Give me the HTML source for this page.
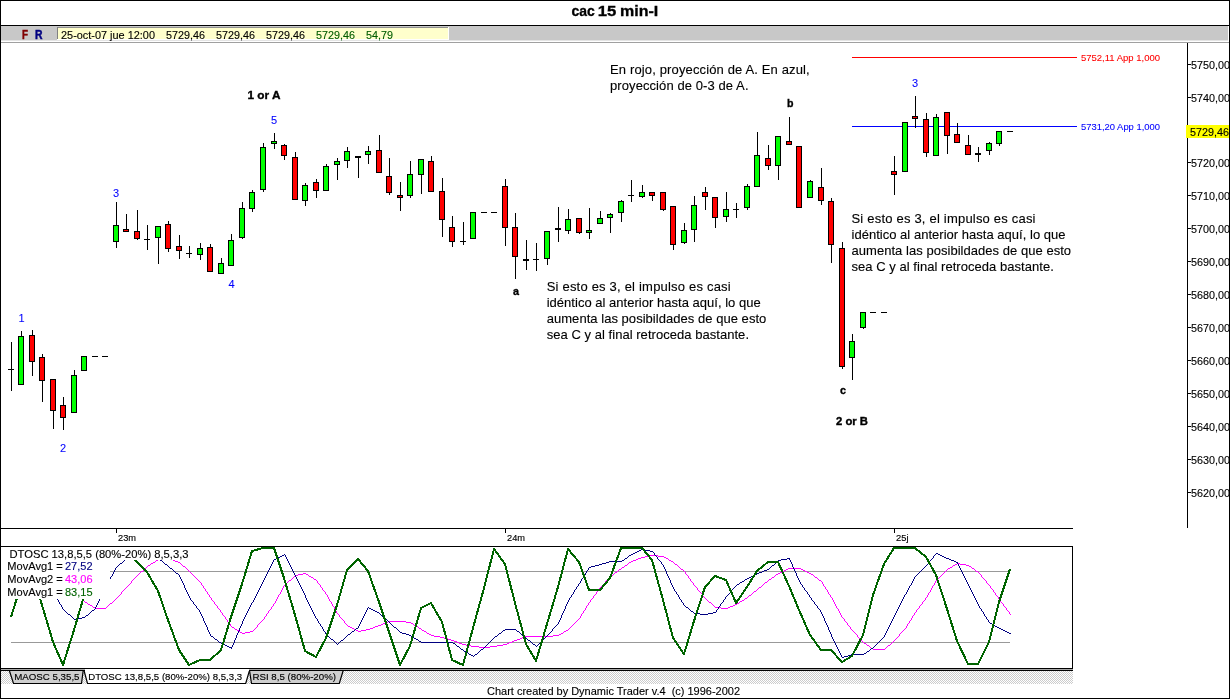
<!DOCTYPE html>
<html lang="es">
<head>
<meta charset="utf-8">
<title>cac 15 min-I</title>
<style>
html,body{margin:0;padding:0;background:#fff;}
body{width:1230px;height:699px;overflow:hidden;}
svg{display:block;font-family:"Liberation Sans",sans-serif;}
svg rect,svg path{shape-rendering:crispEdges;}
svg text{white-space:pre;}
</style>
</head>
<body>
<svg width="1230" height="699" viewBox="0 0 1230 699">
<defs>
<pattern id="dith" width="2" height="2" patternUnits="userSpaceOnUse"><rect width="2" height="2" fill="#fff"/><rect width="1" height="1" fill="#cccccc"/><rect x="1" y="1" width="1" height="1" fill="#cccccc"/></pattern>
<clipPath id="axc"><rect x="1188" y="43" width="41" height="485"/></clipPath>
<clipPath id="pc"><rect x="1" y="547" width="1071" height="121"/></clipPath>
</defs>
<rect x="0" y="0" width="1230" height="699" fill="#fff"/>
<text y="16" font-size="14.5" font-weight="bold" fill="#000" stroke="#000" stroke-width="0.3"><tspan x="571.6" textLength="23.2" lengthAdjust="spacingAndGlyphs">cac</tspan> <tspan x="597.8" textLength="18.6" lengthAdjust="spacingAndGlyphs">15</tspan> <tspan x="620" textLength="38.2" lengthAdjust="spacingAndGlyphs">min-I</tspan></text>
<rect x="0" y="25" width="1230" height="1" fill="#000"/>
<rect x="1" y="26" width="1227" height="14" fill="#c8c8c8"/>
<rect x="1" y="40" width="1227" height="1" fill="#e4e4e4"/>
<rect x="1" y="41" width="1227" height="1" fill="#fff"/>
<rect x="1" y="42" width="1228" height="1" fill="#a0a0a0"/>
<text x="22" y="39" font-size="12.5" fill="#800000" font-weight="bold" textLength="6" lengthAdjust="spacingAndGlyphs" stroke="#800000" stroke-width="0.5">F</text>
<text x="35" y="39" font-size="12.5" fill="#000080" font-weight="bold" textLength="7.5" lengthAdjust="spacingAndGlyphs" stroke="#000080" stroke-width="0.5">R</text>
<rect x="57" y="27" width="392" height="13" fill="#fff"/>
<rect x="57" y="27" width="391" height="1" fill="#909090"/>
<rect x="57" y="27" width="1" height="12" fill="#808080"/>
<rect x="58" y="28" width="390" height="11" fill="#ffffcc"/>
<text x="61" y="39" font-size="11" fill="#000" textLength="94" lengthAdjust="spacingAndGlyphs" stroke="#000" stroke-width="0.12">25-oct-07 jue 12:00</text>
<text x="166" y="39" font-size="11" fill="#000" textLength="39" lengthAdjust="spacingAndGlyphs" stroke="#000" stroke-width="0.12">5729,46</text>
<text x="216" y="39" font-size="11" fill="#000" textLength="39" lengthAdjust="spacingAndGlyphs" stroke="#000" stroke-width="0.12">5729,46</text>
<text x="266" y="39" font-size="11" fill="#000" textLength="39" lengthAdjust="spacingAndGlyphs" stroke="#000" stroke-width="0.12">5729,46</text>
<text x="316" y="39" font-size="11" fill="#005c00" textLength="39" lengthAdjust="spacingAndGlyphs" stroke="#005c00" stroke-width="0.12">5729,46</text>
<text x="366" y="39" font-size="11" fill="#005c00" textLength="27" lengthAdjust="spacingAndGlyphs" stroke="#005c00" stroke-width="0.12">54,79</text>
<rect x="1187" y="43" width="1" height="485" fill="#000"/>
<g clip-path="url(#axc)">
<rect x="1188" y="64" width="3" height="1" fill="#000"/>
<text x="1191" y="69" font-size="11" fill="#000" textLength="39" lengthAdjust="spacingAndGlyphs" stroke="#000" stroke-width="0.12">5750,00</text>
<rect x="1188" y="97" width="3" height="1" fill="#000"/>
<text x="1191" y="102" font-size="11" fill="#000" textLength="39" lengthAdjust="spacingAndGlyphs" stroke="#000" stroke-width="0.12">5740,00</text>
<rect x="1188" y="130" width="3" height="1" fill="#000"/>
<text x="1191" y="135" font-size="11" fill="#000" textLength="39" lengthAdjust="spacingAndGlyphs" stroke="#000" stroke-width="0.12">5730,00</text>
<rect x="1188" y="162" width="3" height="1" fill="#000"/>
<text x="1191" y="167" font-size="11" fill="#000" textLength="39" lengthAdjust="spacingAndGlyphs" stroke="#000" stroke-width="0.12">5720,00</text>
<rect x="1188" y="195" width="3" height="1" fill="#000"/>
<text x="1191" y="200" font-size="11" fill="#000" textLength="39" lengthAdjust="spacingAndGlyphs" stroke="#000" stroke-width="0.12">5710,00</text>
<rect x="1188" y="228" width="3" height="1" fill="#000"/>
<text x="1191" y="233" font-size="11" fill="#000" textLength="39" lengthAdjust="spacingAndGlyphs" stroke="#000" stroke-width="0.12">5700,00</text>
<rect x="1188" y="261" width="3" height="1" fill="#000"/>
<text x="1191" y="266" font-size="11" fill="#000" textLength="39" lengthAdjust="spacingAndGlyphs" stroke="#000" stroke-width="0.12">5690,00</text>
<rect x="1188" y="294" width="3" height="1" fill="#000"/>
<text x="1191" y="299" font-size="11" fill="#000" textLength="39" lengthAdjust="spacingAndGlyphs" stroke="#000" stroke-width="0.12">5680,00</text>
<rect x="1188" y="327" width="3" height="1" fill="#000"/>
<text x="1191" y="332" font-size="11" fill="#000" textLength="39" lengthAdjust="spacingAndGlyphs" stroke="#000" stroke-width="0.12">5670,00</text>
<rect x="1188" y="360" width="3" height="1" fill="#000"/>
<text x="1191" y="365" font-size="11" fill="#000" textLength="39" lengthAdjust="spacingAndGlyphs" stroke="#000" stroke-width="0.12">5660,00</text>
<rect x="1188" y="393" width="3" height="1" fill="#000"/>
<text x="1191" y="398" font-size="11" fill="#000" textLength="39" lengthAdjust="spacingAndGlyphs" stroke="#000" stroke-width="0.12">5650,00</text>
<rect x="1188" y="426" width="3" height="1" fill="#000"/>
<text x="1191" y="431" font-size="11" fill="#000" textLength="39" lengthAdjust="spacingAndGlyphs" stroke="#000" stroke-width="0.12">5640,00</text>
<rect x="1188" y="459" width="3" height="1" fill="#000"/>
<text x="1191" y="464" font-size="11" fill="#000" textLength="39" lengthAdjust="spacingAndGlyphs" stroke="#000" stroke-width="0.12">5630,00</text>
<rect x="1188" y="492" width="3" height="1" fill="#000"/>
<text x="1191" y="497" font-size="11" fill="#000" textLength="39" lengthAdjust="spacingAndGlyphs" stroke="#000" stroke-width="0.12">5620,00</text>
</g>
<rect x="1186" y="125" width="43" height="13" fill="#ffff00"/>
<text x="1190" y="136" font-size="11" fill="#000" textLength="39" lengthAdjust="spacingAndGlyphs" stroke="#000" stroke-width="0.12">5729,46</text>
<rect x="852" y="57" width="225" height="1" fill="#ff0000"/>
<text x="1081" y="61" font-size="9.33" fill="#ff0000" textLength="79" lengthAdjust="spacingAndGlyphs" stroke="#ff0000" stroke-width="0.08">5752,11 App 1,000</text>
<rect x="852" y="126" width="225" height="1" fill="#0000ff"/>
<text x="1081" y="130" font-size="9.33" fill="#0000ff" textLength="79" lengthAdjust="spacingAndGlyphs" stroke="#0000ff" stroke-width="0.08">5731,20 App 1,000</text>
<rect x="11" y="342" width="1" height="49" fill="#000"/>
<rect x="8" y="369" width="6" height="1" fill="#000"/>
<rect x="21" y="331" width="1" height="54" fill="#000"/>
<rect x="18" y="336" width="6" height="49" fill="#000"/>
<rect x="19" y="337" width="4" height="47" fill="#00ff00"/>
<rect x="32" y="330" width="1" height="46" fill="#000"/>
<rect x="29" y="335" width="6" height="27" fill="#000"/>
<rect x="30" y="336" width="4" height="25" fill="#ff0000"/>
<rect x="42" y="354" width="1" height="48" fill="#000"/>
<rect x="39" y="357" width="6" height="24" fill="#000"/>
<rect x="40" y="358" width="4" height="22" fill="#ff0000"/>
<rect x="53" y="379" width="1" height="50" fill="#000"/>
<rect x="50" y="379" width="6" height="32" fill="#000"/>
<rect x="51" y="380" width="4" height="30" fill="#ff0000"/>
<rect x="63" y="397" width="1" height="33" fill="#000"/>
<rect x="60" y="405" width="6" height="13" fill="#000"/>
<rect x="61" y="406" width="4" height="11" fill="#ff0000"/>
<rect x="74" y="370" width="1" height="43" fill="#000"/>
<rect x="71" y="375" width="6" height="38" fill="#000"/>
<rect x="72" y="376" width="4" height="36" fill="#00ff00"/>
<rect x="84" y="356" width="1" height="15" fill="#000"/>
<rect x="81" y="356" width="6" height="15" fill="#000"/>
<rect x="82" y="357" width="4" height="13" fill="#00ff00"/>
<rect x="92" y="356" width="6" height="1" fill="#000"/>
<rect x="102" y="356" width="6" height="1" fill="#000"/>
<rect x="116" y="202" width="1" height="46" fill="#000"/>
<rect x="113" y="225" width="6" height="17" fill="#000"/>
<rect x="114" y="226" width="4" height="15" fill="#00ff00"/>
<rect x="126" y="214" width="1" height="18" fill="#000"/>
<rect x="123" y="229" width="6" height="3" fill="#000"/>
<rect x="124" y="230" width="4" height="1" fill="#ff0000"/>
<rect x="137" y="210" width="1" height="30" fill="#000"/>
<rect x="134" y="231" width="6" height="8" fill="#000"/>
<rect x="135" y="232" width="4" height="6" fill="#ff0000"/>
<rect x="147" y="225" width="1" height="25" fill="#000"/>
<rect x="144" y="239" width="6" height="1" fill="#000"/>
<rect x="158" y="226" width="1" height="38" fill="#000"/>
<rect x="155" y="226" width="6" height="12" fill="#000"/>
<rect x="156" y="227" width="4" height="10" fill="#00ff00"/>
<rect x="168" y="221" width="1" height="31" fill="#000"/>
<rect x="165" y="224" width="6" height="25" fill="#000"/>
<rect x="166" y="225" width="4" height="23" fill="#ff0000"/>
<rect x="179" y="235" width="1" height="24" fill="#000"/>
<rect x="176" y="246" width="6" height="5" fill="#000"/>
<rect x="177" y="247" width="4" height="3" fill="#ff0000"/>
<rect x="189" y="246" width="1" height="12" fill="#000"/>
<rect x="186" y="253" width="6" height="1" fill="#000"/>
<rect x="200" y="243" width="1" height="17" fill="#000"/>
<rect x="197" y="248" width="6" height="7" fill="#000"/>
<rect x="198" y="249" width="4" height="5" fill="#00ff00"/>
<rect x="210" y="244" width="1" height="28" fill="#000"/>
<rect x="207" y="247" width="6" height="25" fill="#000"/>
<rect x="208" y="248" width="4" height="23" fill="#ff0000"/>
<rect x="221" y="258" width="1" height="16" fill="#000"/>
<rect x="218" y="263" width="6" height="11" fill="#000"/>
<rect x="219" y="264" width="4" height="9" fill="#00ff00"/>
<rect x="231" y="234" width="1" height="32" fill="#000"/>
<rect x="228" y="240" width="6" height="26" fill="#000"/>
<rect x="229" y="241" width="4" height="24" fill="#00ff00"/>
<rect x="242" y="202" width="1" height="37" fill="#000"/>
<rect x="239" y="208" width="6" height="30" fill="#000"/>
<rect x="240" y="209" width="4" height="28" fill="#00ff00"/>
<rect x="252" y="190" width="1" height="22" fill="#000"/>
<rect x="249" y="192" width="6" height="17" fill="#000"/>
<rect x="250" y="193" width="4" height="15" fill="#00ff00"/>
<rect x="263" y="143" width="1" height="49" fill="#000"/>
<rect x="260" y="147" width="6" height="43" fill="#000"/>
<rect x="261" y="148" width="4" height="41" fill="#00ff00"/>
<rect x="274" y="133" width="1" height="16" fill="#000"/>
<rect x="271" y="141" width="6" height="3" fill="#000"/>
<rect x="272" y="142" width="4" height="1" fill="#00ff00"/>
<rect x="284" y="144" width="1" height="16" fill="#000"/>
<rect x="281" y="145" width="6" height="11" fill="#000"/>
<rect x="282" y="146" width="4" height="9" fill="#ff0000"/>
<rect x="295" y="152" width="1" height="48" fill="#000"/>
<rect x="292" y="157" width="6" height="43" fill="#000"/>
<rect x="293" y="158" width="4" height="41" fill="#ff0000"/>
<rect x="305" y="183" width="1" height="23" fill="#000"/>
<rect x="302" y="185" width="6" height="16" fill="#000"/>
<rect x="303" y="186" width="4" height="14" fill="#00ff00"/>
<rect x="316" y="179" width="1" height="19" fill="#000"/>
<rect x="313" y="182" width="6" height="9" fill="#000"/>
<rect x="314" y="183" width="4" height="7" fill="#ff0000"/>
<rect x="326" y="164" width="1" height="27" fill="#000"/>
<rect x="323" y="166" width="6" height="25" fill="#000"/>
<rect x="324" y="167" width="4" height="23" fill="#00ff00"/>
<rect x="337" y="158" width="1" height="22" fill="#000"/>
<rect x="334" y="161" width="6" height="4" fill="#000"/>
<rect x="335" y="162" width="4" height="2" fill="#00ff00"/>
<rect x="347" y="147" width="1" height="21" fill="#000"/>
<rect x="344" y="151" width="6" height="10" fill="#000"/>
<rect x="345" y="152" width="4" height="8" fill="#00ff00"/>
<rect x="358" y="156" width="1" height="22" fill="#000"/>
<rect x="355" y="156" width="6" height="2" fill="#000"/>
<rect x="368" y="146" width="1" height="18" fill="#000"/>
<rect x="365" y="151" width="6" height="4" fill="#000"/>
<rect x="366" y="152" width="4" height="2" fill="#00ff00"/>
<rect x="379" y="135" width="1" height="38" fill="#000"/>
<rect x="376" y="150" width="6" height="23" fill="#000"/>
<rect x="377" y="151" width="4" height="21" fill="#ff0000"/>
<rect x="389" y="158" width="1" height="37" fill="#000"/>
<rect x="386" y="176" width="6" height="17" fill="#000"/>
<rect x="387" y="177" width="4" height="15" fill="#ff0000"/>
<rect x="400" y="182" width="1" height="29" fill="#000"/>
<rect x="397" y="195" width="6" height="3" fill="#000"/>
<rect x="398" y="196" width="4" height="1" fill="#ff0000"/>
<rect x="410" y="161" width="1" height="37" fill="#000"/>
<rect x="407" y="174" width="6" height="22" fill="#000"/>
<rect x="408" y="175" width="4" height="20" fill="#00ff00"/>
<rect x="421" y="159" width="1" height="35" fill="#000"/>
<rect x="418" y="159" width="6" height="16" fill="#000"/>
<rect x="419" y="160" width="4" height="14" fill="#00ff00"/>
<rect x="431" y="156" width="1" height="36" fill="#000"/>
<rect x="428" y="161" width="6" height="31" fill="#000"/>
<rect x="429" y="162" width="4" height="29" fill="#ff0000"/>
<rect x="442" y="178" width="1" height="59" fill="#000"/>
<rect x="439" y="191" width="6" height="29" fill="#000"/>
<rect x="440" y="192" width="4" height="27" fill="#ff0000"/>
<rect x="452" y="216" width="1" height="31" fill="#000"/>
<rect x="449" y="227" width="6" height="15" fill="#000"/>
<rect x="450" y="228" width="4" height="13" fill="#ff0000"/>
<rect x="463" y="222" width="1" height="23" fill="#000"/>
<rect x="460" y="241" width="6" height="1" fill="#000"/>
<rect x="473" y="212" width="1" height="27" fill="#000"/>
<rect x="470" y="212" width="6" height="27" fill="#000"/>
<rect x="471" y="213" width="4" height="25" fill="#00ff00"/>
<rect x="481" y="212" width="6" height="1" fill="#000"/>
<rect x="491" y="212" width="6" height="1" fill="#000"/>
<rect x="505" y="179" width="1" height="67" fill="#000"/>
<rect x="502" y="186" width="6" height="42" fill="#000"/>
<rect x="503" y="187" width="4" height="40" fill="#ff0000"/>
<rect x="515" y="213" width="1" height="66" fill="#000"/>
<rect x="512" y="227" width="6" height="30" fill="#000"/>
<rect x="513" y="228" width="4" height="28" fill="#ff0000"/>
<rect x="526" y="240" width="1" height="30" fill="#000"/>
<rect x="523" y="259" width="6" height="2" fill="#000"/>
<rect x="536" y="243" width="1" height="28" fill="#000"/>
<rect x="533" y="259" width="6" height="1" fill="#000"/>
<rect x="547" y="231" width="1" height="34" fill="#000"/>
<rect x="544" y="231" width="6" height="28" fill="#000"/>
<rect x="545" y="232" width="4" height="26" fill="#00ff00"/>
<rect x="558" y="207" width="1" height="35" fill="#000"/>
<rect x="555" y="228" width="6" height="2" fill="#000"/>
<rect x="568" y="209" width="1" height="25" fill="#000"/>
<rect x="565" y="219" width="6" height="12" fill="#000"/>
<rect x="566" y="220" width="4" height="10" fill="#00ff00"/>
<rect x="579" y="218" width="1" height="16" fill="#000"/>
<rect x="576" y="218" width="6" height="15" fill="#000"/>
<rect x="577" y="219" width="4" height="13" fill="#ff0000"/>
<rect x="589" y="208" width="1" height="31" fill="#000"/>
<rect x="586" y="230" width="6" height="3" fill="#000"/>
<rect x="587" y="231" width="4" height="1" fill="#00ff00"/>
<rect x="600" y="211" width="1" height="13" fill="#000"/>
<rect x="597" y="218" width="6" height="6" fill="#000"/>
<rect x="598" y="219" width="4" height="4" fill="#00ff00"/>
<rect x="610" y="213" width="1" height="20" fill="#000"/>
<rect x="607" y="214" width="6" height="4" fill="#000"/>
<rect x="608" y="215" width="4" height="2" fill="#00ff00"/>
<rect x="621" y="200" width="1" height="22" fill="#000"/>
<rect x="618" y="201" width="6" height="12" fill="#000"/>
<rect x="619" y="202" width="4" height="10" fill="#00ff00"/>
<rect x="631" y="180" width="1" height="22" fill="#000"/>
<rect x="628" y="195" width="6" height="1" fill="#000"/>
<rect x="642" y="185" width="1" height="13" fill="#000"/>
<rect x="639" y="192" width="6" height="5" fill="#000"/>
<rect x="640" y="193" width="4" height="3" fill="#00ff00"/>
<rect x="652" y="192" width="1" height="9" fill="#000"/>
<rect x="649" y="192" width="6" height="4" fill="#000"/>
<rect x="650" y="193" width="4" height="2" fill="#ff0000"/>
<rect x="663" y="192" width="1" height="19" fill="#000"/>
<rect x="660" y="192" width="6" height="18" fill="#000"/>
<rect x="661" y="193" width="4" height="16" fill="#ff0000"/>
<rect x="673" y="206" width="1" height="44" fill="#000"/>
<rect x="670" y="206" width="6" height="39" fill="#000"/>
<rect x="671" y="207" width="4" height="37" fill="#ff0000"/>
<rect x="684" y="223" width="1" height="21" fill="#000"/>
<rect x="681" y="230" width="6" height="13" fill="#000"/>
<rect x="682" y="231" width="4" height="11" fill="#00ff00"/>
<rect x="694" y="196" width="1" height="46" fill="#000"/>
<rect x="691" y="205" width="6" height="25" fill="#000"/>
<rect x="692" y="206" width="4" height="23" fill="#00ff00"/>
<rect x="705" y="187" width="1" height="23" fill="#000"/>
<rect x="702" y="192" width="6" height="5" fill="#000"/>
<rect x="703" y="193" width="4" height="3" fill="#ff0000"/>
<rect x="715" y="197" width="1" height="31" fill="#000"/>
<rect x="712" y="197" width="6" height="21" fill="#000"/>
<rect x="713" y="198" width="4" height="19" fill="#ff0000"/>
<rect x="726" y="192" width="1" height="30" fill="#000"/>
<rect x="723" y="209" width="6" height="8" fill="#000"/>
<rect x="724" y="210" width="4" height="6" fill="#00ff00"/>
<rect x="736" y="203" width="1" height="15" fill="#000"/>
<rect x="733" y="209" width="6" height="1" fill="#000"/>
<rect x="747" y="184" width="1" height="26" fill="#000"/>
<rect x="744" y="186" width="6" height="22" fill="#000"/>
<rect x="745" y="187" width="4" height="20" fill="#00ff00"/>
<rect x="757" y="132" width="1" height="55" fill="#000"/>
<rect x="754" y="155" width="6" height="32" fill="#000"/>
<rect x="755" y="156" width="4" height="30" fill="#00ff00"/>
<rect x="768" y="145" width="1" height="25" fill="#000"/>
<rect x="765" y="158" width="6" height="8" fill="#000"/>
<rect x="766" y="159" width="4" height="6" fill="#ff0000"/>
<rect x="778" y="136" width="1" height="44" fill="#000"/>
<rect x="775" y="136" width="6" height="30" fill="#000"/>
<rect x="776" y="137" width="4" height="28" fill="#00ff00"/>
<rect x="789" y="117" width="1" height="28" fill="#000"/>
<rect x="786" y="141" width="6" height="4" fill="#000"/>
<rect x="787" y="142" width="4" height="2" fill="#ff0000"/>
<rect x="799" y="146" width="1" height="62" fill="#000"/>
<rect x="796" y="146" width="6" height="62" fill="#000"/>
<rect x="797" y="147" width="4" height="60" fill="#ff0000"/>
<rect x="810" y="180" width="1" height="18" fill="#000"/>
<rect x="807" y="181" width="6" height="17" fill="#000"/>
<rect x="808" y="182" width="4" height="15" fill="#00ff00"/>
<rect x="821" y="168" width="1" height="37" fill="#000"/>
<rect x="818" y="187" width="6" height="14" fill="#000"/>
<rect x="819" y="188" width="4" height="12" fill="#ff0000"/>
<rect x="831" y="198" width="1" height="65" fill="#000"/>
<rect x="828" y="201" width="6" height="44" fill="#000"/>
<rect x="829" y="202" width="4" height="42" fill="#ff0000"/>
<rect x="842" y="242" width="1" height="127" fill="#000"/>
<rect x="839" y="248" width="6" height="119" fill="#000"/>
<rect x="840" y="249" width="4" height="117" fill="#ff0000"/>
<rect x="852" y="334" width="1" height="46" fill="#000"/>
<rect x="849" y="341" width="6" height="17" fill="#000"/>
<rect x="850" y="342" width="4" height="15" fill="#00ff00"/>
<rect x="863" y="312" width="1" height="17" fill="#000"/>
<rect x="860" y="312" width="6" height="16" fill="#000"/>
<rect x="861" y="313" width="4" height="14" fill="#00ff00"/>
<rect x="870" y="312" width="6" height="1" fill="#000"/>
<rect x="881" y="312" width="6" height="1" fill="#000"/>
<rect x="894" y="156" width="1" height="39" fill="#000"/>
<rect x="891" y="171" width="6" height="4" fill="#000"/>
<rect x="892" y="172" width="4" height="2" fill="#ff0000"/>
<rect x="905" y="122" width="1" height="50" fill="#000"/>
<rect x="902" y="122" width="6" height="50" fill="#000"/>
<rect x="903" y="123" width="4" height="48" fill="#00ff00"/>
<rect x="915" y="96" width="1" height="32" fill="#000"/>
<rect x="912" y="116" width="6" height="3" fill="#000"/>
<rect x="913" y="117" width="4" height="1" fill="#ff0000"/>
<rect x="926" y="113" width="1" height="44" fill="#000"/>
<rect x="923" y="119" width="6" height="34" fill="#000"/>
<rect x="924" y="120" width="4" height="32" fill="#ff0000"/>
<rect x="936" y="114" width="1" height="42" fill="#000"/>
<rect x="933" y="117" width="6" height="39" fill="#000"/>
<rect x="934" y="118" width="4" height="37" fill="#00ff00"/>
<rect x="947" y="112" width="1" height="42" fill="#000"/>
<rect x="944" y="112" width="6" height="24" fill="#000"/>
<rect x="945" y="113" width="4" height="22" fill="#ff0000"/>
<rect x="957" y="123" width="1" height="20" fill="#000"/>
<rect x="954" y="134" width="6" height="9" fill="#000"/>
<rect x="955" y="135" width="4" height="7" fill="#ff0000"/>
<rect x="968" y="135" width="1" height="20" fill="#000"/>
<rect x="965" y="145" width="6" height="10" fill="#000"/>
<rect x="966" y="146" width="4" height="8" fill="#ff0000"/>
<rect x="978" y="147" width="1" height="15" fill="#000"/>
<rect x="975" y="153" width="6" height="2" fill="#000"/>
<rect x="989" y="142" width="1" height="13" fill="#000"/>
<rect x="986" y="143" width="6" height="8" fill="#000"/>
<rect x="987" y="144" width="4" height="6" fill="#00ff00"/>
<rect x="999" y="131" width="1" height="15" fill="#000"/>
<rect x="996" y="131" width="6" height="13" fill="#000"/>
<rect x="997" y="132" width="4" height="11" fill="#00ff00"/>
<rect x="1007" y="131" width="6" height="1" fill="#000"/>
<text x="21.5" y="322" font-size="11" fill="#0000ff" text-anchor="middle" stroke="#0000ff" stroke-width="0.08">1</text>
<text x="63" y="452" font-size="11" fill="#0000ff" text-anchor="middle" stroke="#0000ff" stroke-width="0.08">2</text>
<text x="116" y="197" font-size="11" fill="#0000ff" text-anchor="middle" stroke="#0000ff" stroke-width="0.08">3</text>
<text x="231.5" y="288" font-size="11" fill="#0000ff" text-anchor="middle" stroke="#0000ff" stroke-width="0.08">4</text>
<text x="274" y="124" font-size="11" fill="#0000ff" text-anchor="middle" stroke="#0000ff" stroke-width="0.08">5</text>
<text x="915" y="87" font-size="11" fill="#0000ff" text-anchor="middle" stroke="#0000ff" stroke-width="0.08">3</text>
<text x="247.5" y="99" font-size="11" fill="#000" font-weight="bold" textLength="33" lengthAdjust="spacingAndGlyphs" stroke="#000" stroke-width="0.35">1 or A</text>
<text x="836" y="425" font-size="11" fill="#000" font-weight="bold" textLength="32" lengthAdjust="spacingAndGlyphs" stroke="#000" stroke-width="0.35">2 or B</text>
<text x="787" y="107" font-size="11" fill="#000" font-weight="bold" textLength="6.5" lengthAdjust="spacingAndGlyphs" stroke="#000" stroke-width="0.35">b</text>
<text x="513" y="295" font-size="11" fill="#000" font-weight="bold" textLength="6" lengthAdjust="spacingAndGlyphs" stroke="#000" stroke-width="0.35">a</text>
<text x="840" y="394" font-size="11" fill="#000" font-weight="bold" textLength="6" lengthAdjust="spacingAndGlyphs" stroke="#000" stroke-width="0.35">c</text>
<text x="610" y="74" font-size="13" fill="#000" stroke="#000" stroke-width="0.12" textLength="199.7">En rojo, proyección de A. En azul,</text>
<text x="610" y="90" font-size="13" fill="#000" stroke="#000" stroke-width="0.12" textLength="138.5">proyección de 0-3 de A.</text>
<text x="546.7" y="291" font-size="13" fill="#000" stroke="#000" stroke-width="0.12" textLength="184">Si esto es 3, el impulso es casi</text>
<text x="546.7" y="307" font-size="13" fill="#000" stroke="#000" stroke-width="0.12" textLength="214">idéntico al anterior hasta aquí, lo que</text>
<text x="546.7" y="323" font-size="13" fill="#000" stroke="#000" stroke-width="0.12" textLength="219.6">aumenta las posibildades de que esto</text>
<text x="546.7" y="339" font-size="13" fill="#000" stroke="#000" stroke-width="0.12" textLength="202.3">sea C y al final retroceda bastante.</text>
<text x="851.5" y="223" font-size="13" fill="#000" stroke="#000" stroke-width="0.12" textLength="184">Si esto es 3, el impulso es casi</text>
<text x="851.5" y="239" font-size="13" fill="#000" stroke="#000" stroke-width="0.12" textLength="214">idéntico al anterior hasta aquí, lo que</text>
<text x="851.5" y="255" font-size="13" fill="#000" stroke="#000" stroke-width="0.12" textLength="219.6">aumenta las posibildades de que esto</text>
<text x="851.5" y="271" font-size="13" fill="#000" stroke="#000" stroke-width="0.12" textLength="202.3">sea C y al final retroceda bastante.</text>
<rect x="1" y="528" width="1072" height="1" fill="#000"/>
<rect x="116" y="529" width="1" height="4" fill="#000"/>
<text x="118" y="541" font-size="9.8" fill="#000" textLength="18.0" lengthAdjust="spacingAndGlyphs" stroke="#000" stroke-width="0.15">23m</text>
<rect x="505" y="529" width="1" height="4" fill="#000"/>
<text x="507" y="541" font-size="9.8" fill="#000" textLength="18.0" lengthAdjust="spacingAndGlyphs" stroke="#000" stroke-width="0.15">24m</text>
<rect x="894" y="529" width="1" height="4" fill="#000"/>
<text x="896" y="541" font-size="9.8" fill="#000" textLength="12.5" lengthAdjust="spacingAndGlyphs" stroke="#000" stroke-width="0.15">25j</text>
<rect x="1" y="546" width="1072" height="1" fill="#000"/>
<rect x="1072" y="546" width="1" height="123" fill="#000"/>
<rect x="110" y="571" width="900" height="1" fill="#999"/>
<rect x="11" y="642" width="999" height="1" fill="#999"/>
<path fill="#ff00ff" d="M84 601h1v1h-1zM85 602h1v1h-1zM86 602h1v1h-1zM87 603h1v1h-1zM88 604h1v1h-1zM89 604h1v1h-1zM90 605h1v1h-1zM91 605h1v1h-1zM92 606h1v1h-1zM93 607h1v1h-1zM94 607h1v1h-1zM95 608h1v1h-1zM96 608h1v1h-1zM97 608h1v1h-1zM98 608h1v1h-1zM99 608h1v1h-1zM100 608h1v1h-1zM101 608h1v1h-1zM102 608h1v1h-1zM103 608h1v1h-1zM104 608h1v1h-1zM105 608h1v1h-1zM106 607h1v1h-1zM107 606h1v1h-1zM108 605h1v1h-1zM109 604h1v1h-1zM110 603h1v1h-1zM111 603h1v1h-1zM112 602h1v1h-1zM113 601h1v1h-1zM114 600h1v1h-1zM115 599h1v1h-1zM116 598h1v1h-1zM117 597h1v1h-1zM118 596h1v1h-1zM119 595h1v1h-1zM120 594h1v1h-1zM121 592h1v2h-1zM122 591h1v1h-1zM123 590h1v1h-1zM124 589h1v1h-1zM125 588h1v1h-1zM126 587h1v1h-1zM127 586h1v1h-1zM128 585h1v1h-1zM129 584h1v1h-1zM130 583h1v1h-1zM131 581h1v2h-1zM132 580h1v1h-1zM133 579h1v1h-1zM134 578h1v1h-1zM135 577h1v1h-1zM136 576h1v1h-1zM137 575h1v1h-1zM138 574h1v1h-1zM139 573h1v1h-1zM140 572h1v1h-1zM141 571h1v1h-1zM142 571h1v1h-1zM143 570h1v1h-1zM144 569h1v1h-1zM145 568h1v1h-1zM146 567h1v1h-1zM147 566h1v1h-1zM148 565h1v1h-1zM149 565h1v1h-1zM150 564h1v1h-1zM151 563h1v1h-1zM152 563h1v1h-1zM153 562h1v1h-1zM154 562h1v1h-1zM155 561h1v1h-1zM156 560h1v1h-1zM157 560h1v1h-1zM158 559h1v1h-1zM159 559h1v1h-1zM160 559h1v1h-1zM161 559h1v1h-1zM162 559h1v1h-1zM163 559h1v1h-1zM164 558h1v1h-1zM165 558h1v1h-1zM166 558h1v1h-1zM167 558h1v1h-1zM168 558h1v1h-1zM169 558h1v1h-1zM170 559h1v1h-1zM171 559h1v1h-1zM172 559h1v1h-1zM173 560h1v1h-1zM174 560h1v1h-1zM175 561h1v1h-1zM176 561h1v1h-1zM177 561h1v1h-1zM178 562h1v1h-1zM179 562h1v1h-1zM180 563h1v1h-1zM181 564h1v1h-1zM182 565h1v1h-1zM183 566h1v1h-1zM184 566h1v1h-1zM185 567h1v1h-1zM186 568h1v1h-1zM187 569h1v1h-1zM188 570h1v1h-1zM189 571h1v1h-1zM190 572h1v1h-1zM191 573h1v1h-1zM192 574h1v1h-1zM193 575h1v1h-1zM194 576h1v1h-1zM195 577h1v1h-1zM196 578h1v1h-1zM197 579h1v1h-1zM198 580h1v1h-1zM199 581h1v1h-1zM200 582h1v1h-1zM201 583h1v2h-1zM202 585h1v1h-1zM203 586h1v2h-1zM204 588h1v1h-1zM205 589h1v2h-1zM206 591h1v1h-1zM207 592h1v2h-1zM208 594h1v1h-1zM209 595h1v2h-1zM210 597h1v1h-1zM211 598h1v2h-1zM212 600h1v1h-1zM213 601h1v1h-1zM214 602h1v2h-1zM215 604h1v1h-1zM216 605h1v1h-1zM217 606h1v2h-1zM218 608h1v1h-1zM219 609h1v1h-1zM220 610h1v2h-1zM221 612h1v1h-1zM222 613h1v2h-1zM223 615h1v1h-1zM224 616h1v1h-1zM225 617h1v2h-1zM226 619h1v1h-1zM227 620h1v2h-1zM228 622h1v1h-1zM229 623h1v1h-1zM230 624h1v2h-1zM231 626h1v1h-1zM232 627h1v1h-1zM233 627h1v1h-1zM234 628h1v1h-1zM235 629h1v1h-1zM236 629h1v1h-1zM237 630h1v1h-1zM238 630h1v1h-1zM239 631h1v1h-1zM240 632h1v1h-1zM241 632h1v1h-1zM242 633h1v1h-1zM243 633h1v1h-1zM244 633h1v1h-1zM245 632h1v1h-1zM246 632h1v1h-1zM247 632h1v1h-1zM248 632h1v1h-1zM249 632h1v1h-1zM250 631h1v1h-1zM251 631h1v1h-1zM252 631h1v1h-1zM253 630h1v1h-1zM254 629h1v1h-1zM255 628h1v1h-1zM256 627h1v1h-1zM257 625h1v2h-1zM258 624h1v1h-1zM259 623h1v1h-1zM260 622h1v1h-1zM261 621h1v1h-1zM262 620h1v1h-1zM263 619h1v1h-1zM264 617h1v2h-1zM265 616h1v1h-1zM266 614h1v2h-1zM267 613h1v1h-1zM268 611h1v2h-1zM269 610h1v1h-1zM270 609h1v1h-1zM271 607h1v2h-1zM272 606h1v1h-1zM273 604h1v2h-1zM274 603h1v1h-1zM275 601h1v2h-1zM276 599h1v2h-1zM277 597h1v2h-1zM278 595h1v2h-1zM279 594h1v1h-1zM280 592h1v2h-1zM281 590h1v2h-1zM282 588h1v2h-1zM283 586h1v2h-1zM284 585h1v1h-1zM285 584h1v1h-1zM286 583h1v1h-1zM287 582h1v1h-1zM288 581h1v1h-1zM289 580h1v1h-1zM290 580h1v1h-1zM291 579h1v1h-1zM292 578h1v1h-1zM293 577h1v1h-1zM294 576h1v1h-1zM295 575h1v1h-1zM296 575h1v1h-1zM297 575h1v1h-1zM298 574h1v1h-1zM299 574h1v1h-1zM300 574h1v1h-1zM301 574h1v1h-1zM302 574h1v1h-1zM303 573h1v1h-1zM304 573h1v1h-1zM305 573h1v1h-1zM306 574h1v1h-1zM307 574h1v1h-1zM308 575h1v1h-1zM309 576h1v1h-1zM310 576h1v1h-1zM311 577h1v1h-1zM312 577h1v1h-1zM313 578h1v1h-1zM314 579h1v1h-1zM315 579h1v1h-1zM316 580h1v1h-1zM317 581h1v2h-1zM318 583h1v1h-1zM319 584h1v1h-1zM320 585h1v2h-1zM321 587h1v1h-1zM322 588h1v2h-1zM323 590h1v1h-1zM324 591h1v1h-1zM325 592h1v2h-1zM326 594h1v1h-1zM327 595h1v2h-1zM328 597h1v2h-1zM329 599h1v2h-1zM330 601h1v1h-1zM331 602h1v2h-1zM332 604h1v2h-1zM333 606h1v1h-1zM334 607h1v2h-1zM335 609h1v2h-1zM336 611h1v2h-1zM337 613h1v1h-1zM338 614h1v1h-1zM339 615h1v2h-1zM340 617h1v1h-1zM341 618h1v1h-1zM342 619h1v1h-1zM343 620h1v1h-1zM344 621h1v2h-1zM345 623h1v1h-1zM346 624h1v1h-1zM347 625h1v1h-1zM348 626h1v1h-1zM349 626h1v1h-1zM350 627h1v1h-1zM351 627h1v1h-1zM352 628h1v1h-1zM353 628h1v1h-1zM354 629h1v1h-1zM355 629h1v1h-1zM356 630h1v1h-1zM357 630h1v1h-1zM358 631h1v1h-1zM359 631h1v1h-1zM360 631h1v1h-1zM361 630h1v1h-1zM362 630h1v1h-1zM363 630h1v1h-1zM364 630h1v1h-1zM365 630h1v1h-1zM366 629h1v1h-1zM367 629h1v1h-1zM368 629h1v1h-1zM369 629h1v1h-1zM370 628h1v1h-1zM371 628h1v1h-1zM372 628h1v1h-1zM373 627h1v1h-1zM374 627h1v1h-1zM375 626h1v1h-1zM376 626h1v1h-1zM377 626h1v1h-1zM378 625h1v1h-1zM379 625h1v1h-1zM380 625h1v1h-1zM381 624h1v1h-1zM382 624h1v1h-1zM383 623h1v1h-1zM384 623h1v1h-1zM385 623h1v1h-1zM386 622h1v1h-1zM387 622h1v1h-1zM388 621h1v1h-1zM389 621h1v1h-1zM390 621h1v1h-1zM391 621h1v1h-1zM392 621h1v1h-1zM393 621h1v1h-1zM394 621h1v1h-1zM395 621h1v1h-1zM396 621h1v1h-1zM397 621h1v1h-1zM398 621h1v1h-1zM399 621h1v1h-1zM400 621h1v1h-1zM401 621h1v1h-1zM402 621h1v1h-1zM403 621h1v1h-1zM404 621h1v1h-1zM405 621h1v1h-1zM406 622h1v1h-1zM407 622h1v1h-1zM408 622h1v1h-1zM409 622h1v1h-1zM410 622h1v1h-1zM411 623h1v1h-1zM412 623h1v1h-1zM413 624h1v1h-1zM414 625h1v1h-1zM415 625h1v1h-1zM416 626h1v1h-1zM417 626h1v1h-1zM418 627h1v1h-1zM419 628h1v1h-1zM420 628h1v1h-1zM421 629h1v1h-1zM422 630h1v1h-1zM423 630h1v1h-1zM424 631h1v1h-1zM425 631h1v1h-1zM426 632h1v1h-1zM427 633h1v1h-1zM428 633h1v1h-1zM429 634h1v1h-1zM430 634h1v1h-1zM431 635h1v1h-1zM432 635h1v1h-1zM433 635h1v1h-1zM434 636h1v1h-1zM435 636h1v1h-1zM436 636h1v1h-1zM437 636h1v1h-1zM438 636h1v1h-1zM439 636h1v1h-1zM440 637h1v1h-1zM441 637h1v1h-1zM442 637h1v1h-1zM443 637h1v1h-1zM444 638h1v1h-1zM445 638h1v1h-1zM446 638h1v1h-1zM447 638h1v1h-1zM448 639h1v1h-1zM449 639h1v1h-1zM450 639h1v1h-1zM451 640h1v1h-1zM452 640h1v1h-1zM453 640h1v1h-1zM454 641h1v1h-1zM455 641h1v1h-1zM456 641h1v1h-1zM457 642h1v1h-1zM458 642h1v1h-1zM459 643h1v1h-1zM460 643h1v1h-1zM461 643h1v1h-1zM462 644h1v1h-1zM463 644h1v1h-1zM464 644h1v1h-1zM465 644h1v1h-1zM466 645h1v1h-1zM467 645h1v1h-1zM468 645h1v1h-1zM469 645h1v1h-1zM470 645h1v1h-1zM471 646h1v1h-1zM472 646h1v1h-1zM473 646h1v1h-1zM474 646h1v1h-1zM475 646h1v1h-1zM476 646h1v1h-1zM477 646h1v1h-1zM478 646h1v1h-1zM479 647h1v1h-1zM480 647h1v1h-1zM481 647h1v1h-1zM482 647h1v1h-1zM483 647h1v1h-1zM484 647h1v1h-1zM485 647h1v1h-1zM486 647h1v1h-1zM487 647h1v1h-1zM488 647h1v1h-1zM489 647h1v1h-1zM490 646h1v1h-1zM491 646h1v1h-1zM492 646h1v1h-1zM493 646h1v1h-1zM494 646h1v1h-1zM495 646h1v1h-1zM496 646h1v1h-1zM497 645h1v1h-1zM498 645h1v1h-1zM499 645h1v1h-1zM500 645h1v1h-1zM501 645h1v1h-1zM502 645h1v1h-1zM503 644h1v1h-1zM504 644h1v1h-1zM505 644h1v1h-1zM506 644h1v1h-1zM507 643h1v1h-1zM508 643h1v1h-1zM509 642h1v1h-1zM510 642h1v1h-1zM511 642h1v1h-1zM512 641h1v1h-1zM513 641h1v1h-1zM514 640h1v1h-1zM515 640h1v1h-1zM516 640h1v1h-1zM517 639h1v1h-1zM518 639h1v1h-1zM519 639h1v1h-1zM520 638h1v1h-1zM521 638h1v1h-1zM522 637h1v1h-1zM523 637h1v1h-1zM524 637h1v1h-1zM525 636h1v1h-1zM526 636h1v1h-1zM527 636h1v1h-1zM528 636h1v1h-1zM529 636h1v1h-1zM530 636h1v1h-1zM531 636h1v1h-1zM532 636h1v1h-1zM533 636h1v1h-1zM534 636h1v1h-1zM535 636h1v1h-1zM536 636h1v1h-1zM537 636h1v1h-1zM538 636h1v1h-1zM539 636h1v1h-1zM540 636h1v1h-1zM541 636h1v1h-1zM542 636h1v1h-1zM543 636h1v1h-1zM544 636h1v1h-1zM545 636h1v1h-1zM546 636h1v1h-1zM547 636h1v1h-1zM548 636h1v1h-1zM549 636h1v1h-1zM550 636h1v1h-1zM551 636h1v1h-1zM552 636h1v1h-1zM553 635h1v1h-1zM554 635h1v1h-1zM555 635h1v1h-1zM556 635h1v1h-1zM557 635h1v1h-1zM558 635h1v1h-1zM559 634h1v1h-1zM560 634h1v1h-1zM561 633h1v1h-1zM562 633h1v1h-1zM563 632h1v1h-1zM564 631h1v1h-1zM565 631h1v1h-1zM566 630h1v1h-1zM567 630h1v1h-1zM568 629h1v1h-1zM569 628h1v1h-1zM570 627h1v1h-1zM571 626h1v1h-1zM572 625h1v1h-1zM573 624h1v1h-1zM574 623h1v1h-1zM575 622h1v1h-1zM576 621h1v1h-1zM577 620h1v1h-1zM578 619h1v1h-1zM579 618h1v1h-1zM580 616h1v2h-1zM581 614h1v2h-1zM582 613h1v1h-1zM583 611h1v2h-1zM584 610h1v1h-1zM585 608h1v2h-1zM586 606h1v2h-1zM587 605h1v1h-1zM588 603h1v2h-1zM589 602h1v1h-1zM590 600h1v2h-1zM591 599h1v1h-1zM592 598h1v1h-1zM593 596h1v2h-1zM594 595h1v1h-1zM595 594h1v1h-1zM596 592h1v2h-1zM597 591h1v1h-1zM598 590h1v1h-1zM599 588h1v2h-1zM600 587h1v1h-1zM601 586h1v1h-1zM602 585h1v1h-1zM603 584h1v1h-1zM604 583h1v1h-1zM605 581h1v2h-1zM606 580h1v1h-1zM607 579h1v1h-1zM608 578h1v1h-1zM609 577h1v1h-1zM610 576h1v1h-1zM611 575h1v1h-1zM612 575h1v1h-1zM613 574h1v1h-1zM614 573h1v1h-1zM615 572h1v1h-1zM616 572h1v1h-1zM617 571h1v1h-1zM618 570h1v1h-1zM619 569h1v1h-1zM620 569h1v1h-1zM621 568h1v1h-1zM622 567h1v1h-1zM623 567h1v1h-1zM624 566h1v1h-1zM625 565h1v1h-1zM626 565h1v1h-1zM627 564h1v1h-1zM628 563h1v1h-1zM629 562h1v1h-1zM630 562h1v1h-1zM631 561h1v1h-1zM632 561h1v1h-1zM633 560h1v1h-1zM634 560h1v1h-1zM635 560h1v1h-1zM636 559h1v1h-1zM637 559h1v1h-1zM638 558h1v1h-1zM639 558h1v1h-1zM640 558h1v1h-1zM641 557h1v1h-1zM642 557h1v1h-1zM643 557h1v1h-1zM644 557h1v1h-1zM645 556h1v1h-1zM646 556h1v1h-1zM647 556h1v1h-1zM648 556h1v1h-1zM649 556h1v1h-1zM650 555h1v1h-1zM651 555h1v1h-1zM652 555h1v1h-1zM653 555h1v1h-1zM654 555h1v1h-1zM655 555h1v1h-1zM656 555h1v1h-1zM657 555h1v1h-1zM658 556h1v1h-1zM659 556h1v1h-1zM660 556h1v1h-1zM661 556h1v1h-1zM662 556h1v1h-1zM663 556h1v1h-1zM664 557h1v1h-1zM665 557h1v1h-1zM666 558h1v1h-1zM667 558h1v1h-1zM668 559h1v1h-1zM669 560h1v1h-1zM670 560h1v1h-1zM671 561h1v1h-1zM672 561h1v1h-1zM673 562h1v1h-1zM674 563h1v1h-1zM675 564h1v1h-1zM676 564h1v1h-1zM677 565h1v1h-1zM678 566h1v1h-1zM679 567h1v1h-1zM680 568h1v1h-1zM681 569h1v1h-1zM682 569h1v1h-1zM683 570h1v1h-1zM684 571h1v1h-1zM685 572h1v2h-1zM686 574h1v1h-1zM687 575h1v1h-1zM688 576h1v2h-1zM689 578h1v1h-1zM690 579h1v2h-1zM691 581h1v1h-1zM692 582h1v1h-1zM693 583h1v2h-1zM694 585h1v1h-1zM695 586h1v1h-1zM696 587h1v1h-1zM697 588h1v2h-1zM698 590h1v1h-1zM699 591h1v1h-1zM700 592h1v1h-1zM701 593h1v1h-1zM702 594h1v2h-1zM703 596h1v1h-1zM704 597h1v1h-1zM705 598h1v1h-1zM706 599h1v1h-1zM707 600h1v1h-1zM708 601h1v1h-1zM709 602h1v1h-1zM710 602h1v1h-1zM711 603h1v1h-1zM712 604h1v1h-1zM713 605h1v1h-1zM714 606h1v1h-1zM715 607h1v1h-1zM716 607h1v1h-1zM717 607h1v1h-1zM718 607h1v1h-1zM719 607h1v1h-1zM720 607h1v1h-1zM721 608h1v1h-1zM722 608h1v1h-1zM723 608h1v1h-1zM724 608h1v1h-1zM725 608h1v1h-1zM726 608h1v1h-1zM727 608h1v1h-1zM728 607h1v1h-1zM729 607h1v1h-1zM730 606h1v1h-1zM731 606h1v1h-1zM732 606h1v1h-1zM733 605h1v1h-1zM734 605h1v1h-1zM735 604h1v1h-1zM736 604h1v1h-1zM737 603h1v1h-1zM738 603h1v1h-1zM739 602h1v1h-1zM740 601h1v1h-1zM741 601h1v1h-1zM742 600h1v1h-1zM743 600h1v1h-1zM744 599h1v1h-1zM745 598h1v1h-1zM746 598h1v1h-1zM747 597h1v1h-1zM748 596h1v1h-1zM749 595h1v1h-1zM750 595h1v1h-1zM751 594h1v1h-1zM752 593h1v1h-1zM753 592h1v1h-1zM754 591h1v1h-1zM755 591h1v1h-1zM756 590h1v1h-1zM757 589h1v1h-1zM758 588h1v1h-1zM759 587h1v1h-1zM760 587h1v1h-1zM761 586h1v1h-1zM762 585h1v1h-1zM763 584h1v1h-1zM764 583h1v1h-1zM765 582h1v1h-1zM766 582h1v1h-1zM767 581h1v1h-1zM768 580h1v1h-1zM769 579h1v1h-1zM770 579h1v1h-1zM771 578h1v1h-1zM772 577h1v1h-1zM773 577h1v1h-1zM774 576h1v1h-1zM775 575h1v1h-1zM776 574h1v1h-1zM777 574h1v1h-1zM778 573h1v1h-1zM779 573h1v1h-1zM780 572h1v1h-1zM781 572h1v1h-1zM782 571h1v1h-1zM783 571h1v1h-1zM784 570h1v1h-1zM785 570h1v1h-1zM786 569h1v1h-1zM787 569h1v1h-1zM788 568h1v1h-1zM789 568h1v1h-1zM790 568h1v1h-1zM791 568h1v1h-1zM792 568h1v1h-1zM793 568h1v1h-1zM794 568h1v1h-1zM795 568h1v1h-1zM796 568h1v1h-1zM797 568h1v1h-1zM798 568h1v1h-1zM799 568h1v1h-1zM800 568h1v1h-1zM801 569h1v1h-1zM802 569h1v1h-1zM803 570h1v1h-1zM804 570h1v1h-1zM805 571h1v1h-1zM806 571h1v1h-1zM807 572h1v1h-1zM808 572h1v1h-1zM809 573h1v1h-1zM810 573h1v1h-1zM811 574h1v1h-1zM812 574h1v1h-1zM813 575h1v1h-1zM814 576h1v1h-1zM815 577h1v1h-1zM816 577h1v1h-1zM817 578h1v1h-1zM818 579h1v1h-1zM819 580h1v1h-1zM820 580h1v1h-1zM821 581h1v1h-1zM822 582h1v2h-1zM823 584h1v2h-1zM824 586h1v1h-1zM825 587h1v2h-1zM826 589h1v1h-1zM827 590h1v2h-1zM828 592h1v2h-1zM829 594h1v1h-1zM830 595h1v2h-1zM831 597h1v1h-1zM832 598h1v2h-1zM833 600h1v2h-1zM834 602h1v2h-1zM835 604h1v2h-1zM836 606h1v2h-1zM837 608h1v1h-1zM838 609h1v2h-1zM839 611h1v2h-1zM840 613h1v2h-1zM841 615h1v2h-1zM842 617h1v1h-1zM843 618h1v1h-1zM844 619h1v2h-1zM845 621h1v1h-1zM846 622h1v1h-1zM847 623h1v2h-1zM848 625h1v1h-1zM849 626h1v1h-1zM850 627h1v2h-1zM851 629h1v1h-1zM852 630h1v1h-1zM853 631h1v1h-1zM854 632h1v1h-1zM855 633h1v1h-1zM856 634h1v1h-1zM857 635h1v2h-1zM858 637h1v1h-1zM859 638h1v1h-1zM860 639h1v1h-1zM861 640h1v1h-1zM862 641h1v1h-1zM863 642h1v1h-1zM864 643h1v1h-1zM865 643h1v1h-1zM866 644h1v1h-1zM867 645h1v1h-1zM868 645h1v1h-1zM869 646h1v1h-1zM870 647h1v1h-1zM871 648h1v1h-1zM872 648h1v1h-1zM873 649h1v1h-1zM874 649h1v1h-1zM875 649h1v1h-1zM876 649h1v1h-1zM877 649h1v1h-1zM878 649h1v1h-1zM879 649h1v1h-1zM880 649h1v1h-1zM881 649h1v1h-1zM882 649h1v1h-1zM883 649h1v1h-1zM884 649h1v1h-1zM885 648h1v1h-1zM886 647h1v1h-1zM887 646h1v1h-1zM888 645h1v1h-1zM889 645h1v1h-1zM890 644h1v1h-1zM891 643h1v1h-1zM892 642h1v1h-1zM893 641h1v1h-1zM894 640h1v1h-1zM895 639h1v1h-1zM896 638h1v1h-1zM897 637h1v1h-1zM898 636h1v1h-1zM899 634h1v2h-1zM900 633h1v1h-1zM901 632h1v1h-1zM902 631h1v1h-1zM903 630h1v1h-1zM904 629h1v1h-1zM905 628h1v1h-1zM906 626h1v2h-1zM907 624h1v2h-1zM908 623h1v1h-1zM909 621h1v2h-1zM910 620h1v1h-1zM911 618h1v2h-1zM912 616h1v2h-1zM913 615h1v1h-1zM914 613h1v2h-1zM915 612h1v1h-1zM916 610h1v2h-1zM917 609h1v1h-1zM918 608h1v1h-1zM919 606h1v2h-1zM920 605h1v1h-1zM921 604h1v1h-1zM922 602h1v2h-1zM923 601h1v1h-1zM924 600h1v1h-1zM925 598h1v2h-1zM926 597h1v1h-1zM927 595h1v2h-1zM928 593h1v2h-1zM929 592h1v1h-1zM930 590h1v2h-1zM931 588h1v2h-1zM932 586h1v2h-1zM933 585h1v1h-1zM934 583h1v2h-1zM935 581h1v2h-1zM936 580h1v1h-1zM937 579h1v1h-1zM938 578h1v1h-1zM939 577h1v1h-1zM940 576h1v1h-1zM941 575h1v1h-1zM942 574h1v1h-1zM943 573h1v1h-1zM944 572h1v1h-1zM945 571h1v1h-1zM946 570h1v1h-1zM947 569h1v1h-1zM948 568h1v1h-1zM949 568h1v1h-1zM950 567h1v1h-1zM951 567h1v1h-1zM952 566h1v1h-1zM953 565h1v1h-1zM954 565h1v1h-1zM955 564h1v1h-1zM956 564h1v1h-1zM957 563h1v1h-1zM958 563h1v1h-1zM959 563h1v1h-1zM960 564h1v1h-1zM961 564h1v1h-1zM962 564h1v1h-1zM963 564h1v1h-1zM964 564h1v1h-1zM965 564h1v1h-1zM966 565h1v1h-1zM967 565h1v1h-1zM968 565h1v1h-1zM969 566h1v1h-1zM970 566h1v1h-1zM971 567h1v1h-1zM972 568h1v1h-1zM973 568h1v1h-1zM974 569h1v1h-1zM975 570h1v1h-1zM976 571h1v1h-1zM977 571h1v1h-1zM978 572h1v1h-1zM979 573h1v1h-1zM980 574h1v1h-1zM981 575h1v2h-1zM982 577h1v1h-1zM983 578h1v1h-1zM984 579h1v1h-1zM985 580h1v1h-1zM986 581h1v2h-1zM987 583h1v1h-1zM988 584h1v1h-1zM989 585h1v1h-1zM990 586h1v2h-1zM991 588h1v1h-1zM992 589h1v1h-1zM993 590h1v2h-1zM994 592h1v1h-1zM995 593h1v2h-1zM996 595h1v1h-1zM997 596h1v1h-1zM998 597h1v2h-1zM999 599h1v1h-1zM1000 600h1v2h-1zM1001 602h1v1h-1zM1002 603h1v1h-1zM1003 604h1v2h-1zM1004 606h1v1h-1zM1005 607h1v1h-1zM1006 608h1v2h-1zM1007 610h1v1h-1zM1008 611h1v1h-1zM1009 612h1v2h-1zM1010 614h1v1h-1z"/>
<path fill="#000080" d="M53 592h1v1h-1zM54 593h1v2h-1zM55 595h1v2h-1zM56 597h1v1h-1zM57 598h1v2h-1zM58 600h1v2h-1zM59 602h1v2h-1zM60 604h1v1h-1zM61 605h1v2h-1zM62 607h1v2h-1zM63 609h1v1h-1zM64 610h1v1h-1zM65 611h1v1h-1zM66 612h1v1h-1zM67 613h1v1h-1zM68 614h1v1h-1zM69 614h1v1h-1zM70 615h1v1h-1zM71 616h1v1h-1zM72 617h1v1h-1zM73 618h1v1h-1zM74 619h1v1h-1zM75 619h1v1h-1zM76 619h1v1h-1zM77 618h1v1h-1zM78 618h1v1h-1zM79 618h1v1h-1zM80 618h1v1h-1zM81 618h1v1h-1zM82 617h1v1h-1zM83 617h1v1h-1zM84 617h1v1h-1zM85 616h1v1h-1zM86 615h1v1h-1zM87 615h1v1h-1zM88 614h1v1h-1zM89 613h1v1h-1zM90 612h1v1h-1zM91 611h1v1h-1zM92 610h1v1h-1zM93 610h1v1h-1zM94 609h1v1h-1zM95 607h1v2h-1zM96 605h1v2h-1zM97 603h1v2h-1zM98 601h1v2h-1zM99 599h1v2h-1zM100 597h1v2h-1zM101 595h1v2h-1zM102 593h1v2h-1zM103 591h1v2h-1zM104 589h1v2h-1zM105 587h1v2h-1zM106 585h1v2h-1zM107 583h1v2h-1zM108 581h1v2h-1zM109 579h1v2h-1zM110 577h1v2h-1zM111 576h1v1h-1zM112 574h1v2h-1zM113 572h1v2h-1zM114 570h1v2h-1zM115 568h1v2h-1zM116 567h1v1h-1zM117 566h1v1h-1zM118 565h1v1h-1zM119 564h1v1h-1zM120 563h1v1h-1zM121 563h1v1h-1zM122 562h1v1h-1zM123 561h1v1h-1zM124 560h1v1h-1zM125 559h1v1h-1zM126 558h1v1h-1zM127 558h1v1h-1zM128 557h1v1h-1zM129 557h1v1h-1zM130 556h1v1h-1zM131 556h1v1h-1zM132 555h1v1h-1zM133 555h1v1h-1zM134 554h1v1h-1zM135 554h1v1h-1zM136 553h1v1h-1zM137 553h1v1h-1zM138 553h1v1h-1zM139 553h1v1h-1zM140 552h1v1h-1zM141 552h1v1h-1zM142 552h1v1h-1zM143 552h1v1h-1zM144 552h1v1h-1zM145 551h1v1h-1zM146 551h1v1h-1zM147 551h1v1h-1zM148 552h1v1h-1zM149 552h1v1h-1zM150 553h1v1h-1zM151 554h1v1h-1zM152 554h1v1h-1zM153 555h1v1h-1zM154 555h1v1h-1zM155 556h1v1h-1zM156 557h1v1h-1zM157 557h1v1h-1zM158 558h1v1h-1zM159 559h1v1h-1zM160 560h1v1h-1zM161 560h1v1h-1zM162 561h1v1h-1zM163 562h1v1h-1zM164 563h1v1h-1zM165 564h1v1h-1zM166 564h1v1h-1zM167 565h1v1h-1zM168 566h1v1h-1zM169 567h1v1h-1zM170 568h1v1h-1zM171 568h1v1h-1zM172 569h1v1h-1zM173 570h1v1h-1zM174 571h1v1h-1zM175 572h1v1h-1zM176 573h1v1h-1zM177 573h1v1h-1zM178 574h1v1h-1zM179 575h1v2h-1zM180 577h1v2h-1zM181 579h1v2h-1zM182 581h1v2h-1zM183 583h1v2h-1zM184 585h1v3h-1zM185 588h1v2h-1zM186 590h1v2h-1zM187 592h1v2h-1zM188 594h1v2h-1zM189 596h1v2h-1zM190 598h1v2h-1zM191 600h1v1h-1zM192 601h1v1h-1zM193 602h1v2h-1zM194 604h1v1h-1zM195 605h1v1h-1zM196 606h1v2h-1zM197 608h1v1h-1zM198 609h1v1h-1zM199 610h1v2h-1zM200 612h1v2h-1zM201 614h1v2h-1zM202 616h1v2h-1zM203 618h1v3h-1zM204 621h1v2h-1zM205 623h1v2h-1zM206 625h1v2h-1zM207 627h1v3h-1zM208 630h1v2h-1zM209 632h1v2h-1zM210 634h1v2h-1zM211 636h1v1h-1zM212 636h1v1h-1zM213 637h1v1h-1zM214 638h1v1h-1zM215 639h1v1h-1zM216 639h1v1h-1zM217 640h1v1h-1zM218 641h1v1h-1zM219 642h1v1h-1zM220 642h1v1h-1zM221 643h1v1h-1zM222 643h1v1h-1zM223 644h1v1h-1zM224 644h1v1h-1zM225 645h1v1h-1zM226 645h1v1h-1zM227 646h1v1h-1zM228 646h1v1h-1zM229 647h1v1h-1zM230 647h1v1h-1zM231 647h1v2h-1zM232 645h1v2h-1zM233 643h1v2h-1zM234 640h1v3h-1zM235 638h1v2h-1zM236 635h1v3h-1zM237 633h1v2h-1zM238 631h1v2h-1zM239 628h1v3h-1zM240 626h1v2h-1zM241 624h1v2h-1zM242 621h1v3h-1zM243 619h1v2h-1zM244 617h1v2h-1zM245 615h1v2h-1zM246 613h1v2h-1zM247 611h1v2h-1zM248 609h1v2h-1zM249 607h1v2h-1zM250 605h1v2h-1zM251 603h1v2h-1zM252 602h1v1h-1zM253 600h1v2h-1zM254 598h1v2h-1zM255 596h1v2h-1zM256 594h1v2h-1zM257 592h1v2h-1zM258 590h1v2h-1zM259 588h1v2h-1zM260 586h1v2h-1zM261 584h1v2h-1zM262 582h1v2h-1zM263 580h1v2h-1zM264 578h1v2h-1zM265 576h1v2h-1zM266 574h1v2h-1zM267 572h1v2h-1zM268 570h1v2h-1zM269 568h1v2h-1zM270 566h1v2h-1zM271 564h1v2h-1zM272 562h1v2h-1zM273 560h1v2h-1zM274 559h1v1h-1zM275 559h1v1h-1zM276 558h1v1h-1zM277 558h1v1h-1zM278 557h1v1h-1zM279 557h1v1h-1zM280 556h1v1h-1zM281 556h1v1h-1zM282 555h1v1h-1zM283 555h1v1h-1zM284 554h1v1h-1zM285 555h1v2h-1zM286 557h1v2h-1zM287 559h1v2h-1zM288 561h1v2h-1zM289 563h1v2h-1zM290 565h1v2h-1zM291 567h1v2h-1zM292 569h1v2h-1zM293 571h1v2h-1zM294 573h1v2h-1zM295 575h1v2h-1zM296 577h1v2h-1zM297 579h1v2h-1zM298 581h1v2h-1zM299 583h1v2h-1zM300 585h1v2h-1zM301 587h1v2h-1zM302 589h1v2h-1zM303 591h1v2h-1zM304 593h1v2h-1zM305 595h1v3h-1zM306 598h1v2h-1zM307 600h1v2h-1zM308 602h1v2h-1zM309 604h1v2h-1zM310 606h1v2h-1zM311 608h1v2h-1zM312 610h1v2h-1zM313 612h1v2h-1zM314 614h1v2h-1zM315 616h1v2h-1zM316 618h1v1h-1zM317 619h1v2h-1zM318 621h1v2h-1zM319 623h1v1h-1zM320 624h1v2h-1zM321 626h1v1h-1zM322 627h1v2h-1zM323 629h1v2h-1zM324 631h1v1h-1zM325 632h1v2h-1zM326 634h1v1h-1zM327 635h1v1h-1zM328 636h1v1h-1zM329 637h1v1h-1zM330 638h1v1h-1zM331 639h1v1h-1zM332 639h1v1h-1zM333 640h1v1h-1zM334 641h1v1h-1zM335 642h1v1h-1zM336 643h1v1h-1zM337 644h1v1h-1zM338 643h1v1h-1zM339 642h1v1h-1zM340 641h1v1h-1zM341 640h1v1h-1zM342 640h1v1h-1zM343 639h1v1h-1zM344 638h1v1h-1zM345 637h1v1h-1zM346 636h1v1h-1zM347 635h1v1h-1zM348 634h1v1h-1zM349 634h1v1h-1zM350 633h1v1h-1zM351 632h1v1h-1zM352 631h1v1h-1zM353 631h1v1h-1zM354 630h1v1h-1zM355 629h1v1h-1zM356 628h1v1h-1zM357 628h1v1h-1zM358 626h1v2h-1zM359 624h1v2h-1zM360 622h1v2h-1zM361 620h1v2h-1zM362 618h1v2h-1zM363 616h1v2h-1zM364 614h1v2h-1zM365 612h1v2h-1zM366 610h1v2h-1zM367 608h1v2h-1zM368 607h1v1h-1zM369 608h1v1h-1zM370 608h1v1h-1zM371 609h1v1h-1zM372 609h1v1h-1zM373 610h1v1h-1zM374 610h1v1h-1zM375 611h1v1h-1zM376 611h1v1h-1zM377 612h1v1h-1zM378 612h1v1h-1zM379 613h1v1h-1zM380 614h1v1h-1zM381 615h1v1h-1zM382 616h1v1h-1zM383 617h1v1h-1zM384 617h1v1h-1zM385 618h1v1h-1zM386 619h1v1h-1zM387 620h1v1h-1zM388 621h1v1h-1zM389 622h1v1h-1zM390 623h1v1h-1zM391 624h1v1h-1zM392 625h1v1h-1zM393 626h1v1h-1zM394 627h1v1h-1zM395 627h1v1h-1zM396 628h1v1h-1zM397 629h1v1h-1zM398 630h1v1h-1zM399 631h1v1h-1zM400 632h1v1h-1zM401 632h1v1h-1zM402 633h1v1h-1zM403 633h1v1h-1zM404 633h1v1h-1zM405 633h1v1h-1zM406 634h1v1h-1zM407 634h1v1h-1zM408 634h1v1h-1zM409 635h1v1h-1zM410 635h1v1h-1zM411 636h1v1h-1zM412 636h1v1h-1zM413 637h1v1h-1zM414 638h1v1h-1zM415 638h1v1h-1zM416 639h1v1h-1zM417 639h1v1h-1zM418 640h1v1h-1zM419 641h1v1h-1zM420 641h1v1h-1zM421 642h1v1h-1zM422 642h1v1h-1zM423 642h1v1h-1zM424 642h1v1h-1zM425 642h1v1h-1zM426 642h1v1h-1zM427 642h1v1h-1zM428 642h1v1h-1zM429 642h1v1h-1zM430 642h1v1h-1zM431 642h1v1h-1zM432 642h1v1h-1zM433 642h1v1h-1zM434 642h1v1h-1zM435 642h1v1h-1zM436 642h1v1h-1zM437 642h1v1h-1zM438 642h1v1h-1zM439 642h1v1h-1zM440 642h1v1h-1zM441 642h1v1h-1zM442 642h1v1h-1zM443 642h1v1h-1zM444 642h1v1h-1zM445 642h1v1h-1zM446 642h1v1h-1zM447 642h1v1h-1zM448 642h1v1h-1zM449 642h1v1h-1zM450 642h1v1h-1zM451 642h1v1h-1zM452 642h1v1h-1zM453 643h1v1h-1zM454 643h1v1h-1zM455 644h1v1h-1zM456 645h1v1h-1zM457 646h1v1h-1zM458 646h1v1h-1zM459 647h1v1h-1zM460 648h1v1h-1zM461 649h1v1h-1zM462 649h1v1h-1zM463 650h1v1h-1zM464 651h1v1h-1zM465 651h1v1h-1zM466 652h1v1h-1zM467 652h1v1h-1zM468 653h1v1h-1zM469 654h1v1h-1zM470 654h1v1h-1zM471 655h1v1h-1zM472 655h1v1h-1zM473 656h1v1h-1zM474 655h1v1h-1zM475 654h1v1h-1zM476 654h1v1h-1zM477 653h1v1h-1zM478 652h1v1h-1zM479 651h1v1h-1zM480 650h1v1h-1zM481 649h1v1h-1zM482 649h1v1h-1zM483 648h1v1h-1zM484 647h1v1h-1zM485 646h1v1h-1zM486 645h1v1h-1zM487 644h1v1h-1zM488 643h1v1h-1zM489 642h1v1h-1zM490 641h1v1h-1zM491 640h1v1h-1zM492 639h1v1h-1zM493 638h1v1h-1zM494 637h1v1h-1zM495 636h1v1h-1zM496 636h1v1h-1zM497 635h1v1h-1zM498 634h1v1h-1zM499 633h1v1h-1zM500 633h1v1h-1zM501 632h1v1h-1zM502 631h1v1h-1zM503 630h1v1h-1zM504 630h1v1h-1zM505 629h1v1h-1zM506 629h1v1h-1zM507 629h1v1h-1zM508 629h1v1h-1zM509 629h1v1h-1zM510 629h1v1h-1zM511 629h1v1h-1zM512 629h1v1h-1zM513 629h1v1h-1zM514 629h1v1h-1zM515 629h1v1h-1zM516 630h1v1h-1zM517 631h1v1h-1zM518 631h1v1h-1zM519 632h1v1h-1zM520 633h1v1h-1zM521 634h1v1h-1zM522 635h1v1h-1zM523 636h1v1h-1zM524 636h1v1h-1zM525 637h1v1h-1zM526 638h1v1h-1zM527 639h1v1h-1zM528 640h1v1h-1zM529 640h1v1h-1zM530 641h1v1h-1zM531 642h1v1h-1zM532 643h1v1h-1zM533 644h1v1h-1zM534 644h1v1h-1zM535 645h1v1h-1zM536 646h1v1h-1zM537 645h1v1h-1zM538 644h1v1h-1zM539 643h1v1h-1zM540 642h1v1h-1zM541 641h1v1h-1zM542 640h1v1h-1zM543 639h1v1h-1zM544 638h1v1h-1zM545 637h1v1h-1zM546 636h1v1h-1zM547 635h1v1h-1zM548 634h1v1h-1zM549 633h1v1h-1zM550 632h1v1h-1zM551 631h1v1h-1zM552 629h1v2h-1zM553 628h1v1h-1zM554 627h1v1h-1zM555 626h1v1h-1zM556 625h1v1h-1zM557 624h1v1h-1zM558 622h1v2h-1zM559 620h1v2h-1zM560 618h1v2h-1zM561 615h1v3h-1zM562 613h1v2h-1zM563 611h1v2h-1zM564 609h1v2h-1zM565 606h1v3h-1zM566 604h1v2h-1zM567 602h1v2h-1zM568 600h1v2h-1zM569 598h1v2h-1zM570 597h1v1h-1zM571 595h1v2h-1zM572 594h1v1h-1zM573 592h1v2h-1zM574 590h1v2h-1zM575 589h1v1h-1zM576 587h1v2h-1zM577 586h1v1h-1zM578 584h1v2h-1zM579 583h1v1h-1zM580 581h1v2h-1zM581 579h1v2h-1zM582 578h1v1h-1zM583 576h1v2h-1zM584 575h1v1h-1zM585 573h1v2h-1zM586 571h1v2h-1zM587 570h1v1h-1zM588 568h1v2h-1zM589 567h1v1h-1zM590 567h1v1h-1zM591 566h1v1h-1zM592 566h1v1h-1zM593 566h1v1h-1zM594 566h1v1h-1zM595 565h1v1h-1zM596 565h1v1h-1zM597 565h1v1h-1zM598 565h1v1h-1zM599 564h1v1h-1zM600 564h1v1h-1zM601 564h1v1h-1zM602 563h1v1h-1zM603 563h1v1h-1zM604 563h1v1h-1zM605 563h1v1h-1zM606 562h1v1h-1zM607 562h1v1h-1zM608 562h1v1h-1zM609 561h1v1h-1zM610 561h1v1h-1zM611 561h1v1h-1zM612 561h1v1h-1zM613 561h1v1h-1zM614 561h1v1h-1zM615 561h1v1h-1zM616 561h1v1h-1zM617 561h1v1h-1zM618 561h1v1h-1zM619 561h1v1h-1zM620 561h1v1h-1zM621 561h1v1h-1zM622 560h1v1h-1zM623 560h1v1h-1zM624 559h1v1h-1zM625 558h1v1h-1zM626 558h1v1h-1zM627 557h1v1h-1zM628 556h1v1h-1zM629 555h1v1h-1zM630 555h1v1h-1zM631 554h1v1h-1zM632 554h1v1h-1zM633 553h1v1h-1zM634 553h1v1h-1zM635 552h1v1h-1zM636 552h1v1h-1zM637 551h1v1h-1zM638 551h1v1h-1zM639 550h1v1h-1zM640 550h1v1h-1zM641 549h1v1h-1zM642 549h1v1h-1zM643 549h1v1h-1zM644 549h1v1h-1zM645 550h1v1h-1zM646 550h1v1h-1zM647 550h1v1h-1zM648 550h1v1h-1zM649 550h1v1h-1zM650 551h1v1h-1zM651 551h1v1h-1zM652 551h1v1h-1zM653 552h1v1h-1zM654 553h1v2h-1zM655 555h1v1h-1zM656 556h1v1h-1zM657 557h1v2h-1zM658 559h1v1h-1zM659 560h1v1h-1zM660 561h1v1h-1zM661 562h1v2h-1zM662 564h1v1h-1zM663 565h1v2h-1zM664 567h1v2h-1zM665 569h1v2h-1zM666 571h1v3h-1zM667 574h1v2h-1zM668 576h1v2h-1zM669 578h1v2h-1zM670 580h1v3h-1zM671 583h1v2h-1zM672 585h1v2h-1zM673 587h1v2h-1zM674 589h1v2h-1zM675 591h1v1h-1zM676 592h1v2h-1zM677 594h1v1h-1zM678 595h1v2h-1zM679 597h1v2h-1zM680 599h1v1h-1zM681 600h1v2h-1zM682 602h1v1h-1zM683 603h1v2h-1zM684 605h1v1h-1zM685 606h1v1h-1zM686 607h1v1h-1zM687 607h1v1h-1zM688 608h1v1h-1zM689 609h1v1h-1zM690 610h1v1h-1zM691 611h1v1h-1zM692 611h1v1h-1zM693 612h1v1h-1zM694 613h1v1h-1zM695 613h1v1h-1zM696 613h1v1h-1zM697 613h1v1h-1zM698 613h1v1h-1zM699 613h1v1h-1zM700 614h1v1h-1zM701 614h1v1h-1zM702 614h1v1h-1zM703 614h1v1h-1zM704 614h1v1h-1zM705 614h1v1h-1zM706 614h1v1h-1zM707 614h1v1h-1zM708 613h1v1h-1zM709 613h1v1h-1zM710 613h1v1h-1zM711 613h1v1h-1zM712 613h1v1h-1zM713 612h1v1h-1zM714 612h1v1h-1zM715 612h1v1h-1zM716 610h1v2h-1zM717 609h1v1h-1zM718 607h1v2h-1zM719 606h1v1h-1zM720 604h1v2h-1zM721 603h1v1h-1zM722 602h1v1h-1zM723 600h1v2h-1zM724 599h1v1h-1zM725 597h1v2h-1zM726 596h1v1h-1zM727 595h1v1h-1zM728 594h1v1h-1zM729 593h1v1h-1zM730 592h1v1h-1zM731 590h1v2h-1zM732 589h1v1h-1zM733 588h1v1h-1zM734 587h1v1h-1zM735 586h1v1h-1zM736 585h1v1h-1zM737 584h1v1h-1zM738 584h1v1h-1zM739 583h1v1h-1zM740 582h1v1h-1zM741 582h1v1h-1zM742 581h1v1h-1zM743 581h1v1h-1zM744 580h1v1h-1zM745 579h1v1h-1zM746 579h1v1h-1zM747 578h1v1h-1zM748 578h1v1h-1zM749 577h1v1h-1zM750 577h1v1h-1zM751 576h1v1h-1zM752 576h1v1h-1zM753 575h1v1h-1zM754 575h1v1h-1zM755 574h1v1h-1zM756 574h1v1h-1zM757 573h1v1h-1zM758 573h1v1h-1zM759 572h1v1h-1zM760 572h1v1h-1zM761 572h1v1h-1zM762 571h1v1h-1zM763 571h1v1h-1zM764 570h1v1h-1zM765 570h1v1h-1zM766 570h1v1h-1zM767 569h1v1h-1zM768 569h1v1h-1zM769 568h1v1h-1zM770 567h1v1h-1zM771 566h1v1h-1zM772 565h1v1h-1zM773 565h1v1h-1zM774 564h1v1h-1zM775 563h1v1h-1zM776 562h1v1h-1zM777 561h1v1h-1zM778 560h1v1h-1zM779 560h1v1h-1zM780 560h1v1h-1zM781 559h1v1h-1zM782 559h1v1h-1zM783 559h1v1h-1zM784 559h1v1h-1zM785 559h1v1h-1zM786 559h1v1h-1zM787 558h1v1h-1zM788 558h1v1h-1zM789 558h1v2h-1zM790 560h1v2h-1zM791 562h1v2h-1zM792 564h1v3h-1zM793 567h1v2h-1zM794 569h1v2h-1zM795 571h1v2h-1zM796 573h1v3h-1zM797 576h1v2h-1zM798 578h1v2h-1zM799 580h1v2h-1zM800 582h1v2h-1zM801 584h1v1h-1zM802 585h1v2h-1zM803 587h1v1h-1zM804 588h1v2h-1zM805 590h1v1h-1zM806 591h1v1h-1zM807 592h1v2h-1zM808 594h1v1h-1zM809 595h1v2h-1zM810 597h1v1h-1zM811 598h1v2h-1zM812 600h1v1h-1zM813 601h1v1h-1zM814 602h1v2h-1zM815 604h1v1h-1zM816 605h1v1h-1zM817 606h1v2h-1zM818 608h1v1h-1zM819 609h1v1h-1zM820 610h1v2h-1zM821 612h1v2h-1zM822 614h1v2h-1zM823 616h1v2h-1zM824 618h1v3h-1zM825 621h1v2h-1zM826 623h1v2h-1zM827 625h1v2h-1zM828 627h1v3h-1zM829 630h1v2h-1zM830 632h1v2h-1zM831 634h1v3h-1zM832 637h1v2h-1zM833 639h1v2h-1zM834 641h1v2h-1zM835 643h1v2h-1zM836 645h1v2h-1zM837 647h1v2h-1zM838 649h1v2h-1zM839 651h1v2h-1zM840 653h1v2h-1zM841 655h1v2h-1zM842 657h1v1h-1zM843 657h1v1h-1zM844 656h1v1h-1zM845 656h1v1h-1zM846 656h1v1h-1zM847 656h1v1h-1zM848 655h1v1h-1zM849 655h1v1h-1zM850 655h1v1h-1zM851 654h1v1h-1zM852 654h1v1h-1zM853 654h1v1h-1zM854 654h1v1h-1zM855 654h1v1h-1zM856 654h1v1h-1zM857 654h1v1h-1zM858 654h1v1h-1zM859 654h1v1h-1zM860 654h1v1h-1zM861 654h1v1h-1zM862 654h1v1h-1zM863 654h1v1h-1zM864 653h1v1h-1zM865 653h1v1h-1zM866 652h1v1h-1zM867 651h1v1h-1zM868 651h1v1h-1zM869 650h1v1h-1zM870 649h1v1h-1zM871 648h1v1h-1zM872 648h1v1h-1zM873 647h1v1h-1zM874 646h1v1h-1zM875 645h1v1h-1zM876 644h1v1h-1zM877 643h1v1h-1zM878 642h1v1h-1zM879 641h1v1h-1zM880 640h1v1h-1zM881 639h1v1h-1zM882 638h1v1h-1zM883 637h1v1h-1zM884 635h1v2h-1zM885 633h1v2h-1zM886 631h1v2h-1zM887 629h1v2h-1zM888 627h1v2h-1zM889 625h1v2h-1zM890 623h1v2h-1zM891 621h1v2h-1zM892 619h1v2h-1zM893 617h1v2h-1zM894 615h1v2h-1zM895 613h1v2h-1zM896 611h1v2h-1zM897 609h1v2h-1zM898 607h1v2h-1zM899 605h1v2h-1zM900 603h1v2h-1zM901 601h1v2h-1zM902 599h1v2h-1zM903 597h1v2h-1zM904 595h1v2h-1zM905 594h1v1h-1zM906 592h1v2h-1zM907 590h1v2h-1zM908 588h1v2h-1zM909 586h1v2h-1zM910 585h1v1h-1zM911 583h1v2h-1zM912 581h1v2h-1zM913 579h1v2h-1zM914 577h1v2h-1zM915 576h1v1h-1zM916 575h1v1h-1zM917 574h1v1h-1zM918 573h1v1h-1zM919 572h1v1h-1zM920 571h1v1h-1zM921 570h1v1h-1zM922 569h1v1h-1zM923 568h1v1h-1zM924 567h1v1h-1zM925 566h1v1h-1zM926 565h1v1h-1zM927 564h1v1h-1zM928 562h1v2h-1zM929 561h1v1h-1zM930 560h1v1h-1zM931 559h1v1h-1zM932 558h1v1h-1zM933 556h1v2h-1zM934 555h1v1h-1zM935 554h1v1h-1zM936 553h1v1h-1zM937 553h1v1h-1zM938 554h1v1h-1zM939 554h1v1h-1zM940 555h1v1h-1zM941 555h1v1h-1zM942 556h1v1h-1zM943 556h1v1h-1zM944 557h1v1h-1zM945 557h1v1h-1zM946 558h1v1h-1zM947 558h1v1h-1zM948 558h1v1h-1zM949 559h1v1h-1zM950 559h1v1h-1zM951 560h1v1h-1zM952 560h1v1h-1zM953 560h1v1h-1zM954 561h1v1h-1zM955 561h1v1h-1zM956 562h1v1h-1zM957 562h1v2h-1zM958 564h1v2h-1zM959 566h1v2h-1zM960 568h1v2h-1zM961 570h1v2h-1zM962 572h1v2h-1zM963 574h1v2h-1zM964 576h1v2h-1zM965 578h1v2h-1zM966 580h1v2h-1zM967 582h1v2h-1zM968 584h1v2h-1zM969 586h1v2h-1zM970 588h1v2h-1zM971 590h1v2h-1zM972 592h1v2h-1zM973 594h1v2h-1zM974 596h1v2h-1zM975 598h1v2h-1zM976 600h1v2h-1zM977 602h1v2h-1zM978 604h1v2h-1zM979 606h1v2h-1zM980 608h1v1h-1zM981 609h1v2h-1zM982 611h1v1h-1zM983 612h1v2h-1zM984 614h1v2h-1zM985 616h1v1h-1zM986 617h1v2h-1zM987 619h1v1h-1zM988 620h1v2h-1zM989 622h1v1h-1zM990 623h1v1h-1zM991 623h1v1h-1zM992 624h1v1h-1zM993 624h1v1h-1zM994 625h1v1h-1zM995 626h1v1h-1zM996 626h1v1h-1zM997 627h1v1h-1zM998 627h1v1h-1zM999 628h1v1h-1zM1000 628h1v1h-1zM1001 629h1v1h-1zM1002 629h1v1h-1zM1003 630h1v1h-1zM1004 630h1v1h-1zM1005 631h1v1h-1zM1006 631h1v1h-1zM1007 632h1v1h-1zM1008 632h1v1h-1zM1009 633h1v1h-1zM1010 633h1v1h-1z"/>
<polyline clip-path="url(#pc)" points="11,617 21,585 32,572 42,605 53,642 63,665 74,630 84,596 95,570 105,552 116,548 126,550 137,562 147,572 158,591 168,620 179,650 189,665 200,660 210,660 221,650 231,617 242,584 252,551 263,548 274,548 284,578 295,615 305,651 316,657 326,638 337,605 347,570 358,559 368,571 379,602 389,632 400,665 410,646 421,608 431,603 442,622 452,660 463,665 473,628 484,588 494,549 505,564 515,603 526,644 536,661 547,624 558,587 568,549 579,562 589,590 600,590 610,578 621,548 631,548 642,548 652,560 663,600 673,638 684,654 694,621 705,587 715,576 726,580 736,603 747,587 757,571 768,562 778,562 789,586 799,610 810,635 821,650 831,650 842,662 852,656 863,635 873,595 884,564 894,548 905,548 915,548 926,557 936,575 947,609 957,641 968,664 978,664 989,642 999,602 1010,569" fill="none" stroke="#006400" stroke-width="2" stroke-linejoin="round" shape-rendering="crispEdges"/>
<rect x="7" y="547" width="184" height="13" fill="#fff"/>
<rect x="7" y="560" width="103" height="39" fill="#fff"/>
<text x="9.5" y="557.5" font-size="11" fill="#000" textLength="179" lengthAdjust="spacingAndGlyphs" stroke="#000" stroke-width="0.12">DTOSC 13,8,5,5 (80%-20%) 8,5,3,3</text>
<text x="7.3" y="570" font-size="11" fill="#000" textLength="55.5" lengthAdjust="spacingAndGlyphs" stroke="#000" stroke-width="0.12">MovAvg1 =</text>
<text x="65" y="570" font-size="11" fill="#000080" textLength="27.5" lengthAdjust="spacingAndGlyphs" stroke="#000080" stroke-width="0.12">27,52</text>
<text x="7.3" y="583" font-size="11" fill="#000" textLength="55.5" lengthAdjust="spacingAndGlyphs" stroke="#000" stroke-width="0.12">MovAvg2 =</text>
<text x="65" y="583" font-size="11" fill="#ff00ff" textLength="27.5" lengthAdjust="spacingAndGlyphs" stroke="#ff00ff" stroke-width="0.12">43,06</text>
<text x="7.3" y="596" font-size="11" fill="#000" textLength="55.5" lengthAdjust="spacingAndGlyphs" stroke="#000" stroke-width="0.12">MovAvg1 =</text>
<text x="65" y="596" font-size="11" fill="#006400" textLength="27.5" lengthAdjust="spacingAndGlyphs" stroke="#006400" stroke-width="0.12">83,15</text>
<rect x="1" y="668" width="1072" height="1" fill="#000"/>
<rect x="1" y="669" width="1072" height="1" fill="#a8a8a8"/>
<rect x="1" y="670" width="1072" height="1" fill="#000"/>
<rect x="1" y="671" width="1072" height="13" fill="url(#dith)"/>
<polygon points="9.3,670.5 13.5,683.5 81.5,683.5 83.2,670.5" fill="#cfcfcf" stroke="#000" stroke-width="1.2" shape-rendering="auto"/>
<text x="14.2" y="680" font-size="9.7" fill="#000" textLength="65.3" lengthAdjust="spacingAndGlyphs" stroke="#000" stroke-width="0.15">MAOSC 5,35,5</text>
<polygon points="249.5,670.5 251.5,683.5 339.3,683.5 343.2,670.5" fill="#cfcfcf" stroke="#000" stroke-width="1.2" shape-rendering="auto"/>
<text x="252.5" y="680" font-size="9.7" fill="#000" textLength="83.5" lengthAdjust="spacingAndGlyphs" stroke="#000" stroke-width="0.15">RSI 8,5 (80%-20%)</text>
<polygon points="84,670.5 87.5,683.5 245.7,683.5 249.5,670.5" fill="#fff" stroke="#000" stroke-width="1.2" shape-rendering="auto"/>
<text x="88.2" y="680" font-size="9.7" fill="#000" textLength="154" lengthAdjust="spacingAndGlyphs" stroke="#000" stroke-width="0.15">DTOSC 13,8,5,5 (80%-20%) 8,5,3,3</text>
<rect x="85" y="669" width="164" height="2" fill="#fff"/>
<text x="487" y="695" font-size="11" fill="#000" textLength="253" lengthAdjust="spacingAndGlyphs" stroke="#000" stroke-width="0.12">Chart created by Dynamic Trader v.4  (c) 1996-2002</text>
<rect x="0" y="0" width="1230" height="1" fill="#000"/>
<rect x="0" y="0" width="1" height="699" fill="#000"/>
<rect x="1229" y="0" width="1" height="699" fill="#000"/>
<rect x="0" y="698" width="1230" height="1" fill="#000"/>
</svg>
</body>
</html>
